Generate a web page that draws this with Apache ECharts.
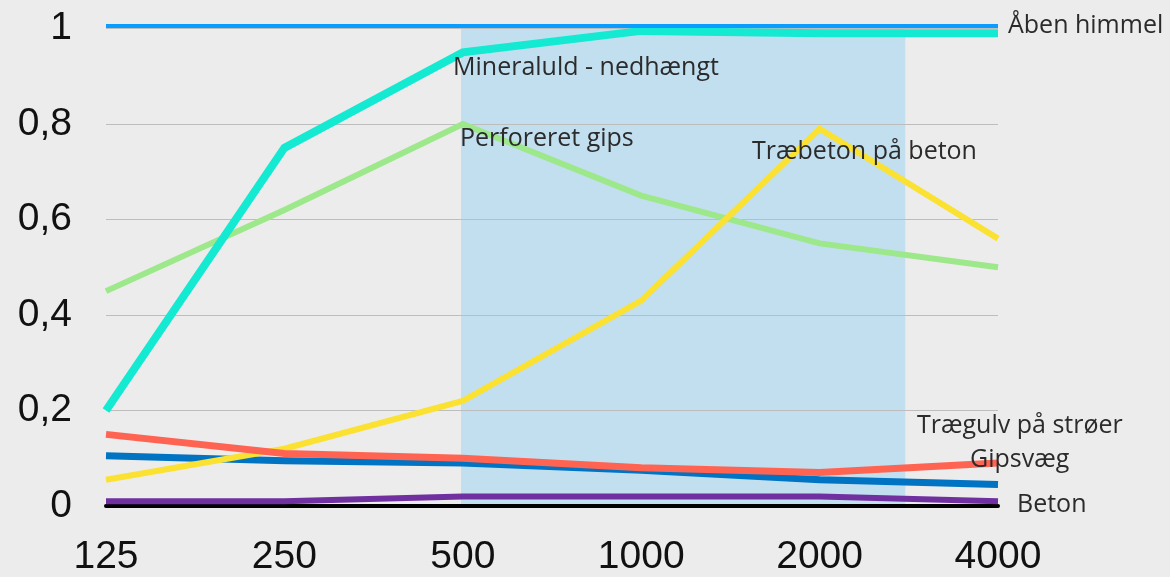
<!DOCTYPE html>
<html>
<head>
<meta charset="utf-8">
<script src="https://cdn.jsdelivr.net/npm/echarts@6/dist/echarts.min.js"></script>
<style>
html,body{margin:0;padding:0;background:#ececec;}
#chart{width:1170px;height:577px;}
</style>
</head>
<body>
<div id="chart"></div>
<script>
const categories = ['125', '250', '500', '1000', '2000', '4000'];
const yTickLabels = ['0', '0,2', '0,4', '0,6', '0,8', '1'];

const abenHimmel = [1.005, 1.005, 1.005, 1.005, 1.005, 1.005];
const mineraluld = [0.20, 0.75, 0.95, 0.995, 0.99, 0.99];
const perforeretGips = [0.45, 0.62, 0.80, 0.65, 0.55, 0.50];
const traebeton = [0.055, 0.12, 0.22, 0.43, 0.79, 0.56];
const traegulv = [0.15, 0.11, 0.10, 0.08, 0.07, 0.09];
const gipsvaeg = [0.105, 0.095, 0.09, 0.075, 0.055, 0.045];
const beton = [0.01, 0.01, 0.02, 0.02, 0.02, 0.01];

// shaded band, in category-index units (500 .. ~2800)
const bandStart = 1.99;
const bandEnd = 4.48;

const names = ['Åben himmel', 'Mineraluld - nedhængt', 'Perforeret gips', 'Træbeton på beton', 'Trægulv på strøer', 'Gipsvæg', 'Beton'];

function pts(arr) { return arr.map((v, i) => [i, v]); }

const chart = echarts.init(document.getElementById('chart'));

function lineSeries(name, data, color, width, extra) {
  return Object.assign({
    name: name,
    type: 'line',
    data: pts(data),
    symbol: 'none',
    showSymbol: false,
    clip: false,
    lineStyle: { color: color, width: width, join: 'miter' },
    itemStyle: { color: color },
    silent: true,
    animation: false
  }, extra || {});
}

const labelFont = '25px "Open Sans", "Noto Sans", sans-serif';
const labelColor = '#2b2b2b';
function txt(text, x, y) {
  return { type: 'text', x: x, y: y, z: 100, silent: true,
    style: { text: text, font: labelFont, fill: labelColor, textVerticalAlign: 'middle', textAlign: 'left' } };
}

chart.setOption({
  backgroundColor: '#ececec',
  animation: false,
  grid: { left: 106, right: 172, top: 28.5, bottom: 69.5, containLabel: false },
  xAxis: {
    type: 'value',
    min: 0, max: 5, interval: 1,
    z: 2,
    axisLine: { show: true, onZero: true, lineStyle: { color: '#000', width: 4 } },
    axisTick: { show: false },
    splitLine: { show: false },
    axisLabel: {
      formatter: v => categories[v] || '',
      fontSize: 39, color: '#111', margin: 32,
      fontFamily: '"Liberation Sans", Arial, sans-serif'
    }
  },
  yAxis: {
    type: 'value',
    min: 0, max: 1, interval: 0.2,
    z: 2,
    axisLine: { show: false },
    axisTick: { show: false },
    splitLine: { show: true, lineStyle: { color: '#bdbdbd', width: 1 } },
    axisLabel: {
      formatter: v => yTickLabels[Math.round(v / 0.2)],
      fontSize: 39, color: '#111', margin: 34,
      fontFamily: '"Liberation Sans", Arial, sans-serif'
    }
  },
  series: [
    lineSeries('band', [], '#c2dff0', 0, {
      markArea: {
        silent: true,
        itemStyle: { color: '#c2dff0', opacity: 1 },
        data: [[{ xAxis: bandStart, yAxis: 0 }, { xAxis: bandEnd, yAxis: 1 }]]
      },
      z: 1
    }),
    lineSeries(names[2], perforeretGips, '#9de88a', 6, { z: 3 }),
    lineSeries(names[1], mineraluld, '#14e9d2', 8, { z: 3 }),
    lineSeries(names[5], gipsvaeg, '#0073c2', 7, { z: 3 }),
    lineSeries(names[3], traebeton, '#fbe132', 6, { z: 3 }),
    lineSeries(names[4], traegulv, '#ff6452', 7, { z: 3 }),
    lineSeries(names[6], beton, '#7030a0', 6, { z: 3 }),
    lineSeries(names[0], abenHimmel, '#0a9cff', 4, { z: 4 })
  ],
  graphic: [
    txt('Åben himmel', 1008, 26),
    txt('Mineraluld - nedhængt', 453, 68),
    txt('Perforeret gips', 460, 139),
    txt('Træbeton på beton', 752, 152),
    txt('Trægulv på strøer', 917, 426),
    txt('Gipsvæg', 970, 460),
    txt('Beton', 1017, 505)
  ]
});
</script>
</body>
</html>
